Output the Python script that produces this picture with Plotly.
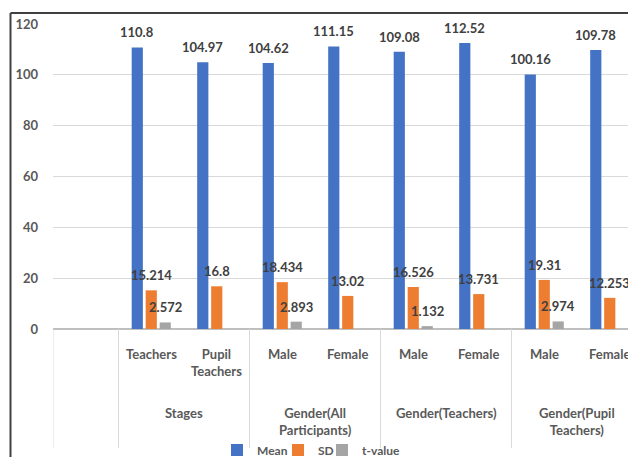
import plotly.graph_objects as go

# ---- data ----
categories = ["", "Teachers", "Pupil<br>Teachers", "Male", "Female", "Male", "Female", "Male", "Female"]
groups = ["Stages", "Gender(All<br>Participants)", "Gender(Teachers)", "Gender(Pupil<br>Teachers)"]
group_members = [[1, 2], [3, 4], [5, 6], [7, 8]]
mean_vals = [None, 110.8, 104.97, 104.62, 111.15, 109.08, 112.52, 100.16, 109.78]
sd_vals = [None, 15.214, 16.8, 18.434, 13.02, 16.526, 13.731, 19.31, 12.253]
t_vals = [None, 2.572, None, 2.893, None, 1.132, None, 2.974, None]
series = [("Mean", mean_vals, "#4472C4"), ("SD", sd_vals, "#ED7D31"), ("t-value", t_vals, "#A5A5A5")]

OFF = 8  # page body margin
W, H = 636 - OFF, 457 - OFF
L, T = 53 - OFF, 24 - OFF
B = H - (329 - OFF)
R = 0
pw, ph = W - L - R, H - T - B
FONT = "Lato, 'Open Sans', sans-serif"
LBL = "#404040"
AX = "#595959"
BARGAP = 0.36

def px_x(p):  # viewport pixel -> paper x
    return (p - OFF - L) / pw

def px_y(p):  # viewport pixel -> paper y
    return (H - B - (p - OFF)) / ph

xs = list(range(len(categories)))
cat_w = 65.5
xmax = -0.5 + pw / cat_w
slot = (1 - BARGAP) / len(series)
legend_ids = ["legend", "legend2", "legend3"]
legend_text_x = [257, 318, 362]  # viewport pixel where each legend label starts

fig = go.Figure()
annotations = []
for k, (name, vals, col) in enumerate(series):
    fig.add_trace(go.Bar(
        x=xs, y=vals, name=name, marker=dict(color=col, line=dict(width=0)),
        legend=legend_ids[k],
    ))
    off = (k - (len(series) - 1) / 2) * slot
    for i, v in enumerate(vals):
        if v is None:
            continue
        annotations.append(dict(x=i + off, y=v, xref="x", yref="y", text=str(v),
                                showarrow=False, yanchor="bottom", xanchor="center", yshift=5,
                                font=dict(family=FONT, size=13, color=LBL, weight="bold")))

for i, c in enumerate(categories):
    if c:
        annotations.append(dict(x=i, y=px_y(344), xref="x", yref="paper", text=c,
                                showarrow=False, yanchor="top", xanchor="center",
                                font=dict(family=FONT, size=13, color=AX, weight="bold")))
for g, mem in zip(groups, group_members):
    annotations.append(dict(x=sum(mem) / len(mem), y=px_y(403), xref="x", yref="paper",
                            text=g, showarrow=False, yanchor="top", xanchor="center",
                            font=dict(family=FONT, size=13, color=AX, weight="bold")))

shapes = []
for xv in [-0.5, 0.5, 2.5, 4.5, 6.5]:
    shapes.append(dict(type="line", xref="x", yref="paper", x0=xv, x1=xv, y0=0, y1=px_y(448),
                       line=dict(color="#d9d9d9", width=1)))
# outer frame (top and left)
shapes.append(dict(type="line", xref="paper", yref="paper", x0=px_x(10.5), x1=px_x(640),
                   y0=px_y(13), y1=px_y(13), line=dict(color="#404040", width=2)))
shapes.append(dict(type="line", xref="paper", yref="paper", x0=px_x(10.5), x1=px_x(10.5),
                   y0=px_y(13), y1=px_y(460), line=dict(color="#404040", width=2)))

legends = {}
for lid, tx in zip(legend_ids, legend_text_x):
    legends[lid] = dict(orientation="h", x=px_x(tx - 40), xanchor="left", y=px_y(450),
                        yanchor="middle", font=dict(family=FONT, size=12, color=AX, weight="bold"),
                        itemwidth=30, bgcolor="rgba(0,0,0,0)", borderwidth=0)

fig.update_layout(
    width=W, height=H, margin=dict(l=L, r=R, t=T, b=B, autoexpand=False),
    paper_bgcolor="white", plot_bgcolor="white",
    barmode="group", bargap=BARGAP, bargroupgap=0.2,
    font=dict(family=FONT, size=13, color=AX),
    xaxis=dict(range=[-0.5, xmax], showticklabels=False, showgrid=False, zeroline=False,
               showline=False, ticks="", automargin=False),
    yaxis=dict(range=[0, 120], tickvals=[0, 20, 40, 60, 80, 100, 120], showgrid=True,
               gridcolor="#d9d9d9", gridwidth=1, zeroline=True, zerolinecolor="#bfbfbf",
               zerolinewidth=2, showline=False, ticks="", ticklabelstandoff=14, automargin=False,
               tickfont=dict(family=FONT, size=13, color=AX, weight="bold")),
    annotations=annotations, shapes=shapes, showlegend=True,
    **legends,
)
fig.write_html("out.html")
